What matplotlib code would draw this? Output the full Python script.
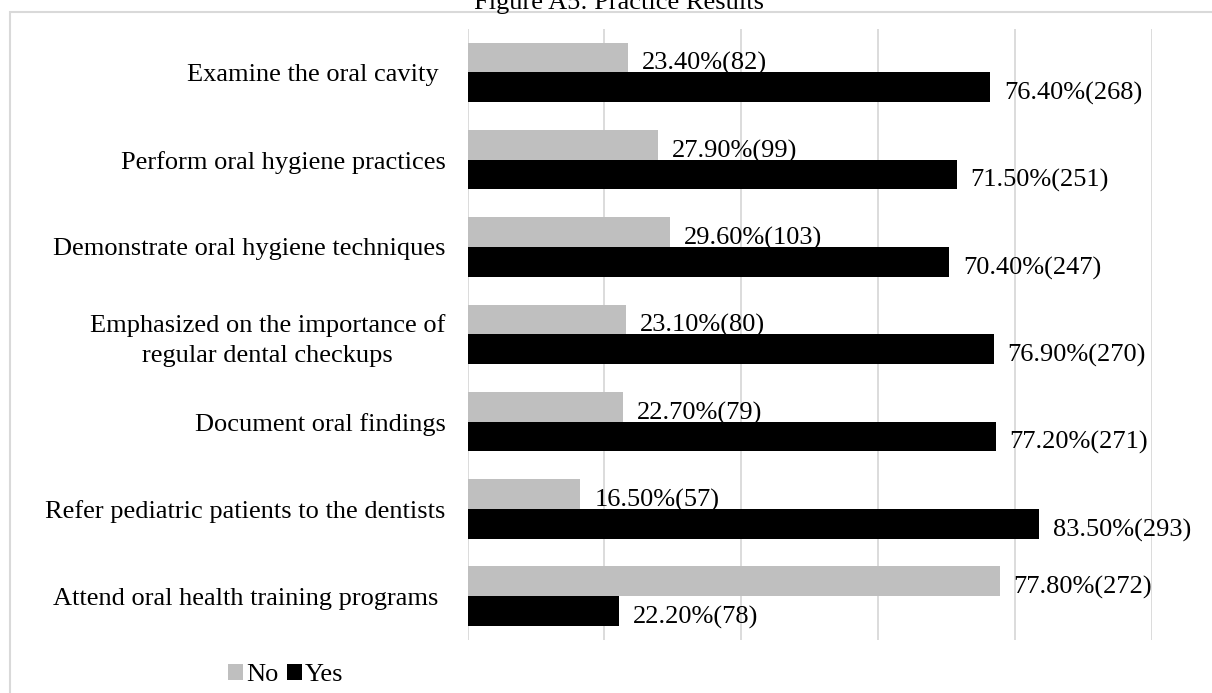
import matplotlib
matplotlib.use("Agg")
import matplotlib.pyplot as plt
from matplotlib.patches import Patch, Rectangle

plt.rcParams['font.family'] = ['Liberation Serif', 'DejaVu Serif']

categories = ["Examine the oral cavity ",
              "Perform oral hygiene practices",
              "Demonstrate oral hygiene techniques",
              "Emphasized on the importance of\nregular dental checkups",
              "Document oral findings",
              "Refer pediatric patients to the dentists",
              "Attend oral health training programs "]
no_pct = [23.4, 27.9, 29.6, 23.1, 22.7, 16.5, 77.8]
no_n = [82, 99, 103, 80, 79, 57, 272]
yes_pct = [76.4, 71.5, 70.4, 76.9, 77.2, 83.5, 22.2]
yes_n = [268, 251, 247, 270, 271, 293, 78]
series_names = ["No", "Yes"]
title = "Figure A5: Practice Results"

GRAY = "#bfbfbf"
BLACK = "#000000"
GRID = "#d9d9d9"
FS = 19

W, H = 1212, 693
fig = plt.figure(figsize=(W / 100, H / 100), dpi=100)
ax = fig.add_axes([467.6 / W, 1 - 639.8 / H, (1151.5 - 467.6) / W, (639.8 - 28.6) / H])

# outer chart frame (extends past right/bottom edge)
fig.patches.append(Rectangle((9.5 / W, -0.1), 1.2, 1 - 11.5 / H + 0.1, transform=fig.transFigure,
                             fill=False, edgecolor=GRID, linewidth=1.5, zorder=0))

ypos = list(range(len(categories)))
bh = 0.34
ax.barh([y - bh / 2 for y in ypos], no_pct, height=bh, color=GRAY, zorder=3)
ax.barh([y + bh / 2 for y in ypos], yes_pct, height=bh, color=BLACK, zorder=3)

for y, p, n in zip(ypos, no_pct, no_n):
    ax.annotate(f"{p:.2f}%({n})", (p, y - bh / 2), xytext=(10, -9), textcoords="offset points",
                ha="left", va="baseline", fontsize=FS, color="black", zorder=4)
for y, p, n in zip(ypos, yes_pct, yes_n):
    ax.annotate(f"{p:.2f}%({n})", (p, y + bh / 2), xytext=(10, -9), textcoords="offset points",
                ha="left", va="baseline", fontsize=FS, color="black", zorder=4)

ax.set_xlim(0, 100)
ax.set_ylim(len(categories) - 0.5, -0.5)
ax.set_xticks([0, 20, 40, 60, 80, 100])
ax.set_xticklabels([])
ax.tick_params(axis="x", length=0)
ax.grid(axis="x", color=GRID, linewidth=1.3, zorder=0)
ax.set_axisbelow(True)
ax.set_yticks(ypos)
ax.set_yticklabels(categories, fontsize=FS, multialignment="center", linespacing=1.45)
ax.tick_params(axis="y", length=0, pad=16)
for s in ax.spines.values():
    s.set_visible(False)

fig.text(619 / W, 1 - 9 / H, title, ha="center", va="baseline", fontsize=FS)

handles = [Patch(facecolor=GRAY, edgecolor="none"), Patch(facecolor=BLACK, edgecolor="none")]
fig.legend(handles, series_names, loc="center", bbox_to_anchor=(286 / W, 1 - 675 / H), ncol=2,
           frameon=False, fontsize=FS, handlelength=0.57, handleheight=0.57,
           handletextpad=0.12, columnspacing=0.3, borderpad=0, borderaxespad=0)

fig.savefig("out.png", dpi=100)
